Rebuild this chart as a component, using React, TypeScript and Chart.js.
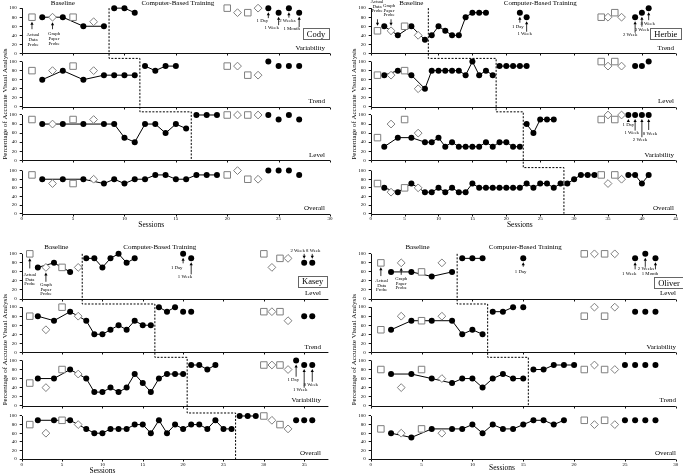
import React, { useEffect, useRef } from 'react';
import { Chart, registerables } from 'chart.js';

Chart.register(...registerables);

type Pt = [number, number];

const SERIF = "'Liberation Serif', 'Times New Roman', serif";
const GRAY = '#7f7f7f';

// ---------------- shared ticks ----------------
const yTicks = [0, 20, 40, 60, 80, 100];
const codyXTicks = [0, 5, 10, 15, 20, 25, 30];
const herbieXTicks = [0, 5, 10, 15, 20, 25, 30, 35, 40, 45];
const kaseyXTicks = [0, 5, 10, 15, 20, 25, 30, 35];
const oliverXTicks = [0, 5, 10, 15, 20, 25, 30];

// ---------------- Cody ----------------
const codyVarBase: Pt[] = [[2, 80], [4, 80], [6, 60], [8, 60]];
const codyVarTrain: Pt[] = [[9, 100], [10, 100], [11, 90]];
const codyVarDots: Pt[] = [[24, 100], [25, 90], [26, 100], [27, 90]];
const codyVarSq: Pt[] = [[1, 80], [5, 80], [20, 100], [22, 90]];
const codyVarDia: Pt[] = [[3, 80], [7, 70], [21, 90], [23, 100]];

const codyTrendBase: Pt[] = [[2, 60], [4, 80], [6, 60], [8, 70], [9, 70], [10, 70], [11, 70]];
const codyTrendTrain: Pt[] = [[12, 90], [13, 80], [14, 90], [15, 90]];
const codyTrendDots: Pt[] = [[24, 100], [25, 90], [26, 90], [27, 90]];
const codyTrendSq: Pt[] = [[1, 80], [5, 90], [20, 90], [22, 70]];
const codyTrendDia: Pt[] = [[3, 80], [7, 80], [21, 90], [23, 70]];

const codyLevelBase: Pt[] = [[2, 80], [4, 80], [6, 80], [8, 80], [9, 80], [10, 50], [11, 40], [12, 80], [13, 80], [14, 60], [15, 80], [16, 70]];
const codyLevelTrain: Pt[] = [[17, 100], [18, 100], [19, 100]];
const codyLevelDots: Pt[] = [[24, 100], [25, 90], [26, 100], [27, 90]];
const codyLevelSq: Pt[] = [[1, 90], [5, 90], [20, 100], [22, 100]];
const codyLevelDia: Pt[] = [[3, 80], [7, 90], [21, 100], [23, 100]];

const codyOverallBase: Pt[] = [[2, 80], [4, 80], [6, 80], [8, 70], [9, 80], [10, 70], [11, 80], [12, 80], [13, 90], [14, 90], [15, 80], [16, 80], [17, 90], [18, 90], [19, 90]];
const codyOverallDots: Pt[] = [[24, 100], [25, 100], [26, 100], [27, 90]];
const codyOverallSq: Pt[] = [[1, 90], [5, 70], [20, 90], [22, 80]];
const codyOverallDia: Pt[] = [[3, 70], [7, 80], [21, 100], [23, 80]];

const codyPhases = [8.5, 11.5, 16.5];

// ---------------- Herbie ----------------
const herbieTrendBase: Pt[] = [[2, 60], [4, 40], [6, 60], [8, 30]];
const herbieTrendTrain: Pt[] = [[9, 40], [10, 60], [11, 50], [12, 40], [13, 40], [14, 80], [15, 90], [16, 90], [17, 90]];
const herbieTrendDots: Pt[] = [[22, 90], [23, 80], [39, 80], [40, 90], [41, 100]];
const herbieTrendSq: Pt[] = [[1, 50], [5, 60], [34, 80], [36, 90]];
const herbieTrendDia: Pt[] = [[3, 50], [7, 40], [35, 80], [37, 80]];

const herbieLevelBase: Pt[] = [[2, 70], [4, 80], [6, 70], [8, 40], [9, 80], [10, 80], [11, 80], [12, 80], [13, 80], [14, 70], [15, 100], [16, 70], [17, 80], [18, 70]];
const herbieLevelTrain: Pt[] = [[19, 90], [20, 90], [21, 90], [22, 90], [23, 90]];
const herbieLevelDots: Pt[] = [[39, 90], [40, 90], [41, 100]];
const herbieLevelSq: Pt[] = [[1, 70], [5, 80], [34, 100], [36, 100]];
const herbieLevelDia: Pt[] = [[3, 70], [7, 40], [35, 90], [37, 90]];

const herbieVarBase: Pt[] = [[2, 30], [4, 50], [6, 50], [8, 40], [9, 40], [10, 50], [11, 30], [12, 40], [13, 30], [14, 30], [15, 30], [16, 30], [17, 40], [18, 30], [19, 40], [20, 40], [21, 30], [22, 30]];
const herbieVarTrain: Pt[] = [[23, 80], [24, 60], [25, 90], [26, 90], [27, 90]];
const herbieVarDots: Pt[] = [[38, 100], [39, 100], [40, 100], [41, 100]];
const herbieVarSq: Pt[] = [[1, 50], [5, 90], [34, 90], [36, 90]];
const herbieVarDia: Pt[] = [[3, 80], [7, 60], [35, 100], [37, 100]];

const herbieOverallBase: Pt[] = [[2, 60], [4, 50], [6, 70], [8, 50], [9, 50], [10, 60], [11, 50], [12, 60], [13, 50], [14, 50], [15, 70], [16, 60], [17, 60], [18, 60], [19, 60], [20, 60], [21, 60], [22, 60], [23, 70], [24, 60], [25, 70], [26, 70], [27, 60], [28, 70]];
const herbieOverallTrain: Pt[] = [[29, 70], [30, 80], [31, 90], [32, 90], [33, 90]];
const herbieOverallFollow: Pt[] = [[38, 90], [39, 90], [40, 70], [41, 90]];
const herbieOverallSq: Pt[] = [[1, 70], [5, 60], [34, 90], [36, 90]];
const herbieOverallDia: Pt[] = [[3, 50], [7, 60], [35, 70], [37, 80]];

const herbiePhases = [8.5, 18.5, 22.5, 28.5];

// ---------------- Kasey ----------------
const kaseyLevelBase: Pt[] = [[2, 70], [4, 80], [6, 60]];
const kaseyLevelTrain: Pt[] = [[8, 90], [9, 90], [10, 70], [11, 90], [12, 100], [13, 80], [14, 90]];
const kaseyLevelDots: Pt[] = [[20, 100], [21, 90], [35, 80], [36, 80]];
const kaseyLevelSq: Pt[] = [[1, 100], [5, 70], [30, 100], [32, 90]];
const kaseyLevelDia: Pt[] = [[3, 70], [7, 70], [31, 70], [33, 90]];

const kaseyTrendBase: Pt[] = [[2, 80], [4, 70], [6, 90], [8, 70], [9, 40], [10, 40], [11, 50], [12, 60], [13, 50], [14, 70], [15, 60], [16, 60]];
const kaseyTrendTrain: Pt[] = [[17, 100], [18, 90], [19, 100]];
const kaseyTrendDots: Pt[] = [[20, 90], [21, 90], [35, 80], [36, 80]];
const kaseyTrendSq: Pt[] = [[1, 80], [5, 100], [30, 90], [32, 90]];
const kaseyTrendDia: Pt[] = [[3, 50], [7, 80], [31, 90], [33, 70]];

const kaseyVarBase: Pt[] = [[2, 60], [4, 60], [6, 80], [8, 60], [9, 30], [10, 30], [11, 40], [12, 30], [13, 40], [14, 70], [15, 50], [16, 30], [17, 60], [18, 70], [19, 70], [20, 70]];
const kaseyVarTrain: Pt[] = [[21, 90], [22, 90], [23, 80], [24, 90]];
const kaseyVarDots: Pt[] = [[34, 100], [35, 90], [36, 90]];
const kaseyVarSq: Pt[] = [[1, 50], [5, 80], [30, 90], [32, 90]];
const kaseyVarDia: Pt[] = [[3, 40], [7, 70], [31, 90], [33, 80]];

const kaseyOverallBase: Pt[] = [[2, 90], [4, 90], [6, 90], [8, 70], [9, 60], [10, 60], [11, 70], [12, 70], [13, 70], [14, 80], [15, 80], [16, 60], [17, 90], [18, 60], [19, 80], [20, 70], [21, 80], [22, 80], [23, 70], [24, 90], [25, 70], [26, 70]];
const kaseyOverallTrain: Pt[] = [[27, 100], [28, 100], [29, 100]];
const kaseyOverallDots: Pt[] = [[34, 90], [35, 90], [36, 90]];
const kaseyOverallSq: Pt[] = [[1, 80], [5, 90], [30, 100], [32, 80]];
const kaseyOverallDia: Pt[] = [[3, 60], [7, 80], [31, 90], [33, 70]];

const kaseyPhases = [7.5, 16.5, 20.5, 26.5];

// ---------------- Oliver ----------------
const oliverLevelBase: Pt[] = [[2, 60], [4, 60], [6, 50], [8, 60]];
const oliverLevelTrain: Pt[] = [[9, 90], [10, 90], [11, 90]];
const oliverLevelDots: Pt[] = [[15, 90], [26, 90], [27, 100], [28, 90]];
const oliverLevelSq: Pt[] = [[1, 80], [5, 60], [21, 100], [23, 100]];
const oliverLevelDia: Pt[] = [[3, 80], [7, 80], [22, 100], [24, 100]];

const oliverVarBase: Pt[] = [[2, 50], [4, 70], [6, 70], [8, 70], [9, 40], [10, 50], [11, 40]];
const oliverVarTrain: Pt[] = [[12, 90], [13, 90], [14, 100]];
const oliverVarDots: Pt[] = [[15, 100], [26, 90], [27, 90], [28, 90]];
const oliverVarSq: Pt[] = [[1, 50], [5, 70], [21, 80], [23, 80]];
const oliverVarDia: Pt[] = [[3, 80], [7, 80], [22, 100], [24, 100]];

const oliverTrendBase: Pt[] = [[2, 70], [4, 70], [6, 60], [8, 50], [9, 60], [10, 60], [11, 40], [12, 60], [13, 70], [14, 60], [15, 60]];
const oliverTrendTrain: Pt[] = [[16, 80], [17, 80], [18, 90], [19, 90], [20, 90]];
const oliverTrendDots: Pt[] = [[25, 90], [26, 90], [27, 90], [28, 90]];
const oliverTrendSq: Pt[] = [[1, 80], [5, 80], [21, 80], [23, 80]];
const oliverTrendDia: Pt[] = [[3, 40], [7, 60], [22, 90], [24, 80]];

const oliverOverallBase: Pt[] = [[2, 60], [4, 50], [6, 70], [8, 70], [9, 70], [10, 80], [11, 60], [12, 80], [13, 70], [14, 70], [15, 80], [16, 90], [17, 90], [18, 80], [19, 90]];
const oliverOverallDots: Pt[] = [[25, 90], [26, 90], [27, 90], [28, 90]];
const oliverOverallSq: Pt[] = [[1, 70], [5, 70], [21, 90], [23, 90]];
const oliverOverallDia: Pt[] = [[3, 60], [7, 60], [22, 80], [24, 80]];

const oliverPhases = [8.5, 11.5, 15.5];

// ---------------- annotation texts ----------------
const actualProbe = ['Actual', 'Data', 'Probe'];
const graphProbe = ['Graph', 'Paper', 'Probe'];

// ---------------- types ----------------
interface Sub { label: string; lines: Pt[][]; dots: Pt[]; sq: Pt[]; dia: Pt[] }
interface Ann { sub: number; s: number; v: number; head: number; tail: number; dx: number; ty: number; lines: string[] }
interface Panel {
  name: string; xmax: number; xTicks: number[];
  cx: number; cy: number; cw: number; ch: number;
  L: number; R: number; T: number; B: number;
  subs: Sub[]; phases: number[];
  baseX: number; cbtX: number; titleY: number;
  labelRight: number; box: [number, number];
  sessX: number; sessY: number; xPad: number;
  anns: Ann[];
}

const TOP_T = 0, TOP_B = 213.7, BOT_T = 245.7, BOT_B = 459;

const panels: Panel[] = [
  {
    name: 'Cody', xmax: 30, xTicks: codyXTicks,
    cx: 0, cy: -8, cw: 340, ch: 245, L: 21.7, R: 330, T: TOP_T, B: TOP_B,
    subs: [
      { label: 'Variability', lines: [codyVarBase, codyVarTrain], dots: codyVarDots, sq: codyVarSq, dia: codyVarDia },
      { label: 'Trend', lines: [codyTrendBase, codyTrendTrain], dots: codyTrendDots, sq: codyTrendSq, dia: codyTrendDia },
      { label: 'Level', lines: [codyLevelBase, codyLevelTrain], dots: codyLevelDots, sq: codyLevelSq, dia: codyLevelDia },
      { label: 'Overall', lines: [codyOverallBase], dots: codyOverallDots, sq: codyOverallSq, dia: codyOverallDia },
    ],
    phases: codyPhases, baseX: 4, cbtX: 15.2, titleY: 2.8, labelRight: 325, box: [316, 33.8],
    sessX: 12.6, sessY: 11.3, xPad: 1.5,
    anns: [
      { sub: 0, s: 1, v: 80, head: 4.5, tail: 12, dx: 1, ty: 18, lines: actualProbe },
      { sub: 0, s: 3, v: 80, head: 5, tail: 12, dx: 1.5, ty: 17, lines: graphProbe },
      { sub: 0, s: 24, v: 100, head: 4, tail: 10, dx: -6, ty: 12.5, lines: ['1 Day'] },
      { sub: 0, s: 25, v: 90, head: 4, tail: 12.5, dx: -7, ty: 14.8, lines: ['1 Week'] },
      { sub: 0, s: 26, v: 100, head: 4, tail: 9.5, dx: -1.5, ty: 12.5, lines: ['2 Weeks'] },
      { sub: 0, s: 27, v: 90, head: 4, tail: 14.5, dx: -7.5, ty: 16.5, lines: ['1 Month'] },
    ],
  },
  {
    name: 'Herbie', xmax: 45, xTicks: herbieXTicks,
    cx: 340, cy: -8, cw: 343, ch: 245, L: 370.7, R: 675.8, T: TOP_T, B: TOP_B,
    subs: [
      { label: 'Trend', lines: [herbieTrendBase, herbieTrendTrain], dots: herbieTrendDots, sq: herbieTrendSq, dia: herbieTrendDia },
      { label: 'Level', lines: [herbieLevelBase, herbieLevelTrain], dots: herbieLevelDots, sq: herbieLevelSq, dia: herbieLevelDia },
      { label: 'Variability', lines: [herbieVarBase, herbieVarTrain], dots: herbieVarDots, sq: herbieVarSq, dia: herbieVarDia },
      { label: 'Overall', lines: [herbieOverallBase, herbieOverallTrain, herbieOverallFollow], dots: [], sq: herbieOverallSq, dia: herbieOverallDia },
    ],
    phases: herbiePhases, baseX: 6, cbtX: 25, titleY: 2.8, labelRight: 674, box: [665.8, 33.8],
    sessX: 22, sessY: 11.3, xPad: 1.5,
    anns: [
      { sub: 0, s: 1, v: 50, head: -5, tail: -11.5, dx: -0.5, ty: -29, lines: actualProbe },
      { sub: 0, s: 3, v: 50, head: -5, tail: -11.5, dx: -2, ty: -24.8, lines: graphProbe },
      { sub: 0, s: 22, v: 90, head: 4, tail: 10, dx: -2, ty: 14, lines: ['1 Day'] },
      { sub: 0, s: 23, v: 80, head: 4, tail: 14.5, dx: -2, ty: 16.8, lines: ['1 Week'] },
      { sub: 0, s: 39, v: 80, head: 4, tail: 15.5, dx: -5, ty: 17.8, lines: ['2 Week'] },
      { sub: 0, s: 40, v: 90, head: 4, tail: 14, dx: 0, ty: 17.3, lines: ['3 Week'] },
      { sub: 0, s: 41, v: 100, head: 4, tail: 12, dx: -1, ty: 15.9, lines: ['8 Week'] },
      { sub: 2, s: 38, v: 100, head: 4, tail: 7, dx: 0, ty: 10, lines: ['1 Day'] },
      { sub: 2, s: 39, v: 100, head: 4, tail: 15.6, dx: -3.4, ty: 17.6, lines: ['1 Week'] },
      { sub: 2, s: 40, v: 100, head: 4, tail: 22.2, dx: -1.9, ty: 24.3, lines: ['2 Week'] },
      { sub: 2, s: 41, v: 100, head: 4, tail: 15, dx: 1.3, ty: 18.3, lines: ['8 Week'] },
    ],
  },
  {
    name: 'Kasey', xmax: 38, xTicks: kaseyXTicks,
    cx: 0, cy: 237, cw: 340, ch: 236, L: 21.7, R: 328.4, T: BOT_T, B: BOT_B,
    subs: [
      { label: 'Level', lines: [kaseyLevelBase, kaseyLevelTrain], dots: kaseyLevelDots, sq: kaseyLevelSq, dia: kaseyLevelDia },
      { label: 'Trend', lines: [kaseyTrendBase, kaseyTrendTrain], dots: kaseyTrendDots, sq: kaseyTrendSq, dia: kaseyTrendDia },
      { label: 'Variability', lines: [kaseyVarBase, kaseyVarTrain], dots: kaseyVarDots, sq: kaseyVarSq, dia: kaseyVarDia },
      { label: 'Overall', lines: [kaseyOverallBase, kaseyOverallTrain], dots: kaseyOverallDots, sq: kaseyOverallSq, dia: kaseyOverallDia },
    ],
    phases: kaseyPhases, baseX: 4.3, cbtX: 17.1, titleY: 1.3, labelRight: 321, box: [312.7, 281],
    sessX: 10, sessY: 11.7, xPad: 3,
    anns: [
      { sub: 0, s: 1, v: 100, head: 4.5, tail: 14.6, dx: 0, ty: 21.2, lines: actualProbe },
      { sub: 0, s: 3, v: 70, head: 5, tail: 14.4, dx: 0, ty: 17.5, lines: graphProbe },
      { sub: 0, s: 20, v: 100, head: 4, tail: 9.5, dx: -6.4, ty: 13.5, lines: ['1 Day'] },
      { sub: 0, s: 21, v: 90, head: 4, tail: 16, dx: -6.2, ty: 18.4, lines: ['1 Week'] },
      { sub: 0, s: 35, v: 80, head: -4, tail: -9, dx: -6.5, ty: -12.1, lines: ['2 Week'] },
      { sub: 0, s: 36, v: 80, head: -4, tail: -9, dx: 1, ty: -12.1, lines: ['8 Week'] },
      { sub: 2, s: 34, v: 100, head: 4, tail: 16.2, dx: -2.8, ty: 19.5, lines: ['1 Day'] },
      { sub: 2, s: 35, v: 90, head: 4, tail: 22.7, dx: -4, ty: 25, lines: ['1 Week'] },
      { sub: 2, s: 36, v: 90, head: 4, tail: 16.7, dx: -1.5, ty: 20, lines: ['8 Week'] },
    ],
  },
  {
    name: 'Oliver', xmax: 30, xTicks: oliverXTicks,
    cx: 340, cy: 237, cw: 343, ch: 236, L: 370.7, R: 675.8, T: BOT_T, B: BOT_B,
    subs: [
      { label: 'Level', lines: [oliverLevelBase, oliverLevelTrain], dots: oliverLevelDots, sq: oliverLevelSq, dia: oliverLevelDia },
      { label: 'Variability', lines: [oliverVarBase, oliverVarTrain], dots: oliverVarDots, sq: oliverVarSq, dia: oliverVarDia },
      { label: 'Trend', lines: [oliverTrendBase, oliverTrendTrain], dots: oliverTrendDots, sq: oliverTrendSq, dia: oliverTrendDia },
      { label: 'Overall', lines: [oliverOverallBase], dots: oliverOverallDots, sq: oliverOverallSq, dia: oliverOverallDia },
    ],
    phases: oliverPhases, baseX: 4.6, cbtX: 15.2, titleY: 1.3, labelRight: 676, box: [669, 282.8],
    sessX: 12.9, sessY: 9.5, xPad: 3,
    anns: [
      { sub: 0, s: 1, v: 80, head: 4.5, tail: 13.2, dx: 0.8, ty: 17.9, lines: actualProbe },
      { sub: 0, s: 3, v: 80, head: 5, tail: 12, dx: 0, ty: 16, lines: graphProbe },
      { sub: 0, s: 15, v: 90, head: 4, tail: 8.4, dx: -2.6, ty: 13.4, lines: ['1 Day'] },
      { sub: 0, s: 26, v: 90, head: 4, tail: 11, dx: -5.8, ty: 15, lines: ['1 Week'] },
      { sub: 0, s: 27, v: 100, head: 4, tail: 13, dx: 0.7, ty: 14.6, lines: ['2 Weeks'] },
      { sub: 0, s: 28, v: 90, head: 4, tail: 11, dx: -5.5, ty: 15, lines: ['1 Month'] },
    ],
  },
];

const STEP_V = 107;

const toXY = (pts: Pt[]) => pts.map(([x, y]) => ({ x, y }));

function drawArrow(ctx: CanvasRenderingContext2D, x: number, yTail: number, yHead: number) {
  const dir = Math.sign(yHead - yTail) || 1;
  ctx.beginPath();
  ctx.lineWidth = 0.8;
  ctx.moveTo(x, yTail);
  ctx.lineTo(x, yHead - dir * 2.5);
  ctx.stroke();
  ctx.beginPath();
  ctx.moveTo(x, yHead);
  ctx.lineTo(x - 1.6, yHead - dir * 3);
  ctx.lineTo(x + 1.6, yHead - dir * 3);
  ctx.closePath();
  ctx.fill();
}

function makePlugin(p: Panel) {
  return {
    id: 'overlay_' + p.name,
    beforeDatasetsDraw(chart: any) {
      const ctx: CanvasRenderingContext2D = chart.ctx;
      const xs = chart.scales.x;
      const a = chart.chartArea;
      ctx.save();
      ctx.strokeStyle = '#111';
      ctx.lineWidth = 1;
      p.subs.forEach((_s, k) => {
        const ys = chart.scales['y' + k];
        const y0 = Math.round(ys.getPixelForValue(0)) + 0.5;
        const y100 = ys.getPixelForValue(100);
        const xl = Math.round(a.left) + 0.5;
        ctx.beginPath();
        ctx.moveTo(xl, y0);
        ctx.lineTo(a.right, y0);
        ctx.moveTo(xl, y0);
        ctx.lineTo(xl, y100);
        ctx.stroke();
        p.xTicks.forEach((t) => {
          const x = Math.round(xs.getPixelForValue(t)) + 0.5;
          ctx.beginPath();
          ctx.moveTo(x, y0);
          ctx.lineTo(x, y0 + 2);
          ctx.stroke();
        });
      });
      ctx.restore();
    },
    afterDatasetsDraw(chart: any) {
      const ctx: CanvasRenderingContext2D = chart.ctx;
      const xs = chart.scales.x;
      const a = chart.chartArea;
      const ys = [0, 1, 2, 3].map((k) => chart.scales['y' + k]);
      ctx.save();
      // phase change lines
      ctx.setLineDash([2, 1.5]);
      ctx.lineWidth = 1;
      ctx.strokeStyle = '#000';
      ctx.beginPath();
      let prevY = 0;
      p.phases.forEach((ph, k) => {
        const x = xs.getPixelForValue(ph);
        if (k === 0) ctx.moveTo(x, ys[0].getPixelForValue(100));
        else ctx.lineTo(x, prevY);
        if (k < p.phases.length - 1) {
          prevY = ys[k + 1].getPixelForValue(STEP_V);
          ctx.lineTo(x, prevY);
        } else {
          ctx.lineTo(x, ys[k].getPixelForValue(0));
        }
      });
      ctx.stroke();
      ctx.setLineDash([]);

      ctx.fillStyle = '#000';
      ctx.strokeStyle = '#000';
      ctx.textBaseline = 'middle';
      // phase titles
      ctx.font = `7px ${SERIF}`;
      ctx.textAlign = 'center';
      ctx.fillText('Baseline', xs.getPixelForValue(p.baseX), a.top + p.titleY);
      ctx.fillText('Computer-Based Training', xs.getPixelForValue(p.cbtX), a.top + p.titleY);
      // sub-plot labels
      ctx.textAlign = 'right';
      p.subs.forEach((s, k) => {
        ctx.fillText(s.label, p.labelRight - p.cx, ys[k].getPixelForValue(0) - 5.5);
      });
      // name box
      ctx.font = `8.5px ${SERIF}`;
      ctx.textAlign = 'center';
      const bx = p.box[0] - p.cx;
      const by = p.box[1] - p.cy;
      const tw = ctx.measureText(p.name).width;
      ctx.lineWidth = 1;
      ctx.strokeStyle = '#666';
      ctx.strokeRect(Math.round(bx - tw / 2 - 4) + 0.5, Math.round(by - 5.5) + 0.5, Math.round(tw + 8), 11);
      ctx.fillText(p.name, bx, by + 0.5);
      // sessions
      ctx.font = `7.5px ${SERIF}`;
      ctx.fillText('Sessions', xs.getPixelForValue(p.sessX), a.bottom + p.sessY);
      // y title
      ctx.save();
      ctx.translate(a.left - 17, a.top + 104);
      ctx.rotate(-Math.PI / 2);
      ctx.font = `7px ${SERIF}`;
      ctx.fillText('Percentage of Accurate Visual Analysis', 0, 0);
      ctx.restore();
      // annotations
      ctx.strokeStyle = '#000';
      ctx.fillStyle = '#000';
      p.anns.forEach((an) => {
        const px = xs.getPixelForValue(an.s);
        const py = ys[an.sub].getPixelForValue(an.v);
        drawArrow(ctx, px, py + an.tail, py + an.head);
        ctx.font = `4.8px ${SERIF}`;
        ctx.textAlign = 'center';
        an.lines.forEach((t, i) => ctx.fillText(t, px + an.dx, py + an.ty + i * 4.6));
      });
      ctx.restore();
    },
  };
}

function buildConfig(p: Panel): any {
  const datasets: any[] = [];
  p.subs.forEach((s, k) => {
    const yAxisID = 'y' + k;
    datasets.push({
      data: toXY(s.sq), yAxisID, showLine: false, pointStyle: 'rect', pointRadius: 4.6,
      pointBorderColor: GRAY, pointBackgroundColor: '#fff', pointBorderWidth: 1,
    });
    datasets.push({
      data: toXY(s.dia), yAxisID, showLine: false, pointStyle: 'rectRot', pointRadius: 3.9,
      pointBorderColor: GRAY, pointBackgroundColor: '#fff', pointBorderWidth: 1,
    });
  });
  p.subs.forEach((s, k) => {
    const yAxisID = 'y' + k;
    s.lines.forEach((seg) => {
      datasets.push({
        data: toXY(seg), yAxisID, showLine: true, borderColor: '#000', borderWidth: 1, tension: 0,
        pointStyle: 'circle', pointRadius: 3, pointBackgroundColor: '#000', pointBorderWidth: 0,
      });
    });
    if (s.dots.length) {
      datasets.push({
        data: toXY(s.dots), yAxisID, showLine: false,
        pointStyle: 'circle', pointRadius: 3, pointBackgroundColor: '#000', pointBorderWidth: 0,
      });
    }
  });

  const yW = p.L - p.cx;
  const xH = p.cy + p.ch - p.B;
  const scales: any = {
    x: {
      type: 'linear', position: 'bottom', min: 0, max: p.xmax,
      grid: { display: false, drawTicks: false },
      border: { display: false },
      ticks: { font: { family: SERIF, size: 5 }, color: '#000', padding: p.xPad, maxRotation: 0, autoSkip: false },
      afterBuildTicks: (ax: any) => { ax.ticks = p.xTicks.map((v) => ({ value: v })); },
      afterFit: (ax: any) => { ax.height = xH; },
    },
  };
  [0, 1, 2, 3].forEach((k) => {
    scales['y' + k] = {
      type: 'linear', position: 'left', stack: 'subs', stackWeight: 1, weight: 4 - k,
      min: 0, max: k === 3 ? 124 : 118,
      grid: { drawOnChartArea: false, drawTicks: true, tickLength: 2, color: '#111', lineWidth: 1 },
      border: { display: false },
      ticks: { font: { family: SERIF, size: 5 }, color: '#000', padding: 3, autoSkip: false },
      afterBuildTicks: (ax: any) => { ax.ticks = yTicks.map((v) => ({ value: v })); },
      afterFit: (ax: any) => { ax.width = yW; },
    };
  });

  return {
    type: 'scatter',
    data: { datasets },
    options: {
      responsive: false,
      animation: false,
      events: [],
      layout: { padding: { left: 0, top: p.T - p.cy, right: p.cx + p.cw - p.R, bottom: 0 } },
      plugins: { legend: { display: false }, tooltip: { enabled: false } },
      scales,
    },
    plugins: [makePlugin(p)],
  };
}

function PanelChart({ p }: { p: Panel }) {
  const ref = useRef<HTMLCanvasElement>(null);
  useEffect(() => {
    const chart = new Chart(ref.current as HTMLCanvasElement, buildConfig(p));
    return () => chart.destroy();
  }, [p]);
  return (
    <canvas
      ref={ref}
      width={p.cw}
      height={p.ch}
      style={{ position: 'absolute', left: p.cx, top: p.cy, width: p.cw, height: p.ch, display: 'block' }}
    />
  );
}

export default function App() {
  return (
    <div style={{ position: 'absolute', left: 0, top: 0, width: 683, height: 473, overflow: 'hidden', background: '#fff' }}>
      {panels.map((p) => (
        <PanelChart key={p.name} p={p} />
      ))}
    </div>
  );
}
